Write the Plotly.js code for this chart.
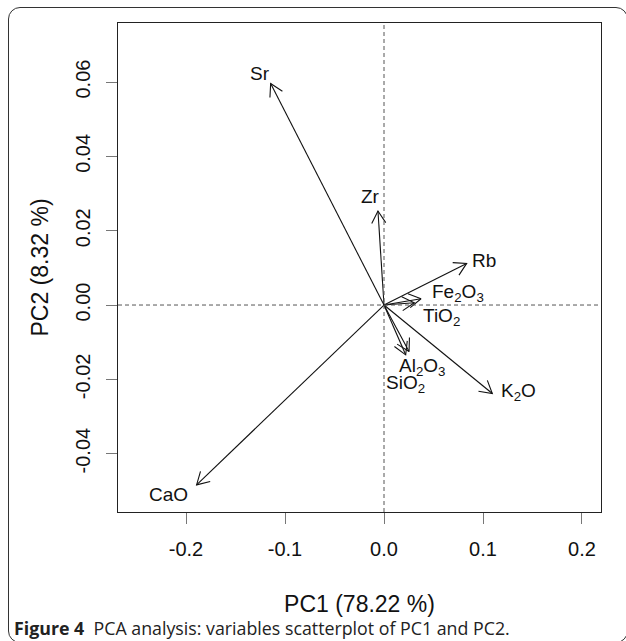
<!DOCTYPE html>
<html>
<head>
<meta charset="utf-8">
<script src="https://cdn.plot.ly/plotly-3.0.1.min.js"></script>
<style>
  html, body { margin: 0; padding: 0; background: #fff; overflow: hidden; }
  #wrap { position: relative; width: 626px; height: 641px; }
  #chart { position: absolute; left: 0; top: 0; width: 626px; height: 641px; }
  #frame { position: absolute; left: 8px; top: 7px; width: 620px; height: 636px;
           border: 1.3px solid #333; border-radius: 12px; box-sizing: border-box; pointer-events: none; }
</style>
</head>
<body>
<div id="wrap">
  <div id="chart"></div>
  <div id="frame"></div>
</div>
<script>
// ---- data ----
const variables = ['Sr', 'Zr', 'Rb', 'Fe<sub>2</sub>O<sub>3</sub>', 'TiO<sub>2</sub>',
                   'Al<sub>2</sub>O<sub>3</sub>', 'SiO<sub>2</sub>', 'K<sub>2</sub>O', 'CaO'];
const pc1 = [-0.1145, -0.0061, 0.0835, 0.0374, 0.0306, 0.0253, 0.0219, 0.1094, -0.1893];
const pc2 = [ 0.0596,  0.0253, 0.0112, 0.0017, 0.0006, -0.0125, -0.0134, -0.0238, -0.0484];
const xTicks = [-0.2, -0.1, 0.0, 0.1, 0.2];
const xTickLabels = ['-0.2', '-0.1', '0.0', '0.1', '0.2'];
const yTicks = [-0.04, -0.02, 0.00, 0.02, 0.04, 0.06];
const yTickLabels = ['-0.04', '-0.02', '0.00', '0.02', '0.04', '0.06'];
const xTitle = 'PC1 (78.22 %)';
const yTitle = 'PC2 (8.32 %)';
const caption = '<b>Figure 4</b>&nbsp;&nbsp;PCA analysis: variables scatterplot of PC1 and PC2.';

// ---- layout / style ----
const W = 626, H = 641;
const M = {l: 118, r: 25, t: 23, b: 129};
const plotW = W - M.l - M.r, plotH = H - M.t - M.b;
const xRange = [-0.2687, 0.2192];
const yRange = [-0.0557, 0.0759];
// label offsets in pixels (styling)
const labelShift = [[-11, 10], [-7, 15], [17, 3], [37, 6], [27, -14], [13, -16], [0, -29], [26, 1], [-28, -10]];

const pxX = plotW / (xRange[1] - xRange[0]);
const pxY = plotH / (yRange[1] - yRange[0]);
const headLen = 14, headAng = Math.PI / 6;

const lx = [], ly = [];
for (let i = 0; i < pc1.length; i++) {
  const tx = pc1[i], ty = pc2[i];
  lx.push(0, tx, null); ly.push(0, ty, null);
  const vx = -tx * pxX, vy = -ty * pxY;
  const n = Math.hypot(vx, vy);
  const ux = vx / n, uy = vy / n;
  const b = [headAng, -headAng].map(a => {
    const rx = ux * Math.cos(a) - uy * Math.sin(a);
    const ry = ux * Math.sin(a) + uy * Math.cos(a);
    return [tx + rx * headLen / pxX, ty + ry * headLen / pxY];
  });
  lx.push(b[0][0], tx, b[1][0], null);
  ly.push(b[0][1], ty, b[1][1], null);
}

const traces = [{
  type: 'scatter', mode: 'lines', x: lx, y: ly,
  line: {color: '#111', width: 1.1}, hoverinfo: 'skip', showlegend: false, connectgaps: false
}];

const font = 'Liberation Sans, Arial, sans-serif';
const annotations = variables.map((v, i) => ({
  x: pc1[i], y: pc2[i], xref: 'x', yref: 'y', text: v, showarrow: false,
  xshift: labelShift[i][0], yshift: labelShift[i][1],
  font: {family: font, size: 19, color: '#111'}
}));
annotations.push({
  xref: 'paper', yref: 'paper', x: (12 - M.l) / plotW, y: -(628 - (H - M.b)) / plotH,
  xanchor: 'left', yanchor: 'middle', showarrow: false, text: caption,
  font: {family: 'Open Sans, Noto Sans, sans-serif', size: 17.8, color: '#222'}
});

const axisCommon = {
  showgrid: false, zeroline: false, showline: true, mirror: true,
  linecolor: '#222', linewidth: 1.2, ticks: 'outside', ticklen: 11,
  tickcolor: '#777', tickwidth: 1, tickfont: {family: font, size: 20, color: '#111'},
  fixedrange: true
};

const layout = {
  width: W, height: H, margin: M,
  paper_bgcolor: '#fff', plot_bgcolor: '#fff', showlegend: false,
  xaxis: Object.assign({}, axisCommon, {
    range: xRange, tickmode: 'array', tickvals: xTicks, ticktext: xTickLabels,
    ticklabelstandoff: 8,
    title: {text: xTitle, font: {family: font, size: 23, color: '#111'}, standoff: 36}
  }),
  yaxis: Object.assign({}, axisCommon, {
    range: yRange, tickmode: 'array', tickvals: yTicks, ticktext: yTickLabels,
    tickangle: -90, ticklabelstandoff: 8,
    title: {text: yTitle, font: {family: font, size: 23, color: '#111'}, standoff: 16}
  }),
  shapes: [
    {type: 'line', xref: 'x', yref: 'paper', x0: 0, x1: 0, y0: 0, y1: 1,
     line: {color: '#555', width: 1, dash: '4px,3px'}},
    {type: 'line', xref: 'paper', yref: 'y', x0: 0, x1: 1, y0: 0, y1: 0,
     line: {color: '#555', width: 1, dash: '4px,3px'}}
  ],
  annotations: annotations
};

Plotly.newPlot('chart', traces, layout, {staticPlot: true, displayModeBar: false});
</script>
</body>
</html>
